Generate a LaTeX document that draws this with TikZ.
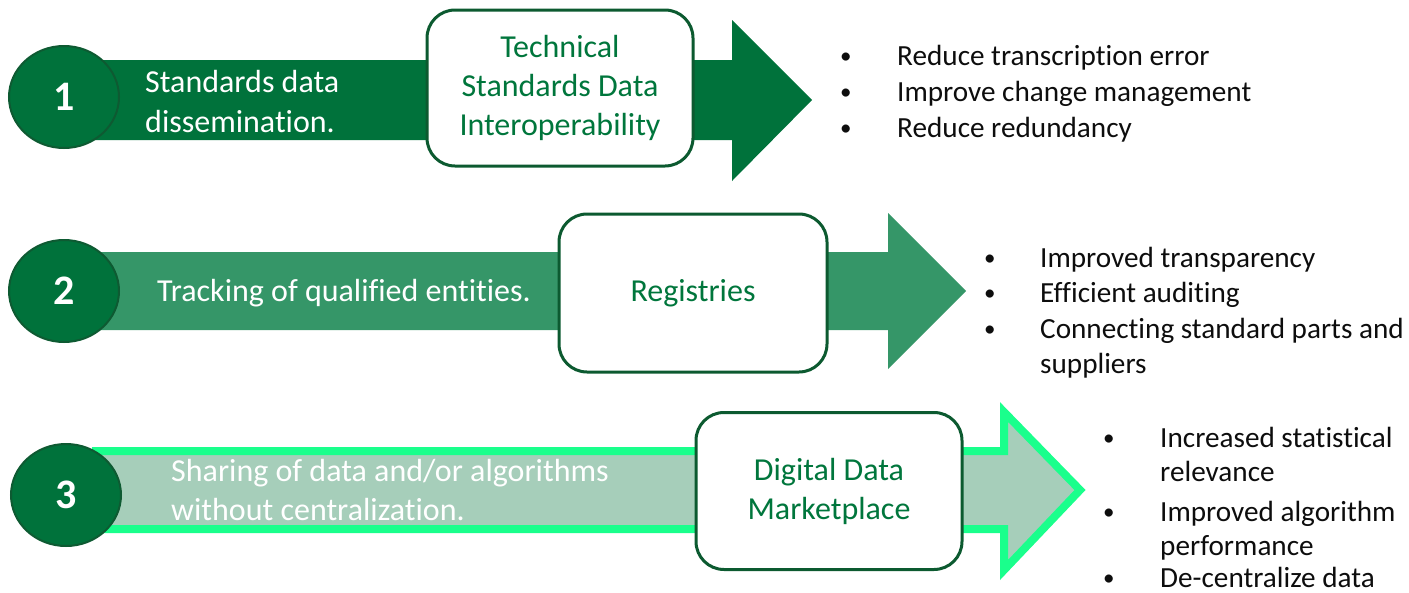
\documentclass[tikz,border=0pt]{standalone}
\usepackage{fontspec}
\setmainfont{Carlito}[Ligatures=NoCommon]
\usetikzlibrary{shapes.geometric}
\definecolor{dkgreen}{RGB}{0,114,59}
\definecolor{circborder}{RGB}{14,90,50}
\definecolor{midgreen}{RGB}{53,150,104}
\definecolor{palegreen}{RGB}{166,206,186}
\definecolor{neongreen}{RGB}{26,255,140}
\definecolor{boxborder}{RGB}{12,90,48}
\definecolor{boxtext}{RGB}{0,118,60}
\definecolor{bultext}{RGB}{13,13,13}
\begin{document}
\begin{tikzpicture}[x=1pt,y=-1pt,
  numcirc/.style={ellipse, fill=dkgreen, draw=circborder, line width=2pt,
    minimum width=110pt, minimum height=102pt, inner sep=0pt, text=white,
    font=\fontsize{42}{48}\selectfont\bfseries},
  keybox/.style={rectangle, rounded corners=28pt, fill=white, draw=boxborder,
    line width=3pt, text=boxtext, align=center, inner sep=0pt,
    font=\fontsize{32}{39}\selectfont},
  armtext/.style={anchor=base west, text=white, inner sep=0pt,
    font=\fontsize{32}{39}\selectfont},
  bulmark/.style={anchor=base west, text=bultext, inner sep=0pt,
    font=\fontsize{23}{34}\selectfont},
  bulline/.style={anchor=base west, text=bultext, inner sep=0pt,
    font=\fontsize{29.2}{34}\selectfont}
 ]
\useasboundingbox (0,0) rectangle (1409,592);

% ---------- Row 1 ----------
\fill[dkgreen] (64,60) -- (732,60) -- (732,20) -- (812,100) -- (732,181) -- (732,140) -- (64,140) -- cycle;
\node[numcirc] (c1) at (64,97) {1};
\node[armtext] (t1a) at (145,92) {Standards data};
\node[armtext] (t1b) at (145,132) {dissemination.};
\node[keybox, minimum width=266pt, minimum height=156pt] (b1) at (560,88)
  {\raisebox{-3pt}{Technical}\\\raisebox{-3pt}{Standards Data}\\\raisebox{-3pt}{Interoperability}};
\node[bulmark] (m1a) at (840,63) {•};
\node[bulline] (l1a) at (897,65) {Reduce transcription error};
\node[bulmark] (m1b) at (840,99) {•};
\node[bulline] (l1b) at (897,101) {Improve change management};
\node[bulmark] (m1c) at (840,135) {•};
\node[bulline] (l1c) at (897,137) {Reduce redundancy};

% ---------- Row 2 ----------
\fill[midgreen] (64,252) -- (888,252) -- (888,213) -- (966,291) -- (888,369) -- (888,330) -- (64,330) -- cycle;
\node[numcirc] (c2) at (64,291) {2};
\node[armtext] (t2a) at (157,301) {Tracking of qualified entities.};
\node[keybox, minimum width=268pt, minimum height=158pt] (b2) at (693,293)
  {\raisebox{-3pt}{Registries}};
\node[bulmark] (m2a) at (984,265) {•};
\node[bulline] (l2a) at (1040,267) {Improved transparency};
\node[bulmark] (m2b) at (984,300) {•};
\node[bulline] (l2b) at (1040,302) {Efficient auditing};
\node[bulmark] (m2c) at (984,336) {•};
\node[bulline] (l2c) at (1040,338) {Connecting standard parts and};
\node[bulline] (l2d) at (1040,373) {suppliers};

% ---------- Row 3 ----------
\filldraw[fill=palegreen, draw=neongreen, line width=8pt, line join=miter]
  (96,451) -- (1004,451) -- (1004,412) -- (1080,490) -- (1004,570) -- (1004,529) -- (96,529) -- cycle;
\node[numcirc] (c3) at (66,495) {3};
\node[armtext] (t3a) at (171,481) {Sharing of data and/or algorithms};
\node[armtext] (t3b) at (171,520) {without centralization.};
\node[keybox, minimum width=266pt, minimum height=157pt] (b3) at (829,491)
  {\raisebox{-3pt}{Digital Data}\\\raisebox{-3pt}{Marketplace}};
\node[bulmark] (m3a) at (1103,445) {•};
\node[bulline] (l3a) at (1160,447) {Increased statistical};
\node[bulline] (l3b) at (1160,481) {relevance};
\node[bulmark] (m3b) at (1103,519) {•};
\node[bulline] (l3c) at (1160,521) {Improved algorithm};
\node[bulline] (l3d) at (1160,555) {performance};
\node[bulmark] (m3c) at (1103,585) {•};
\node[bulline] (l3e) at (1160,587) {De-centralize data};
\end{tikzpicture}
\end{document}
